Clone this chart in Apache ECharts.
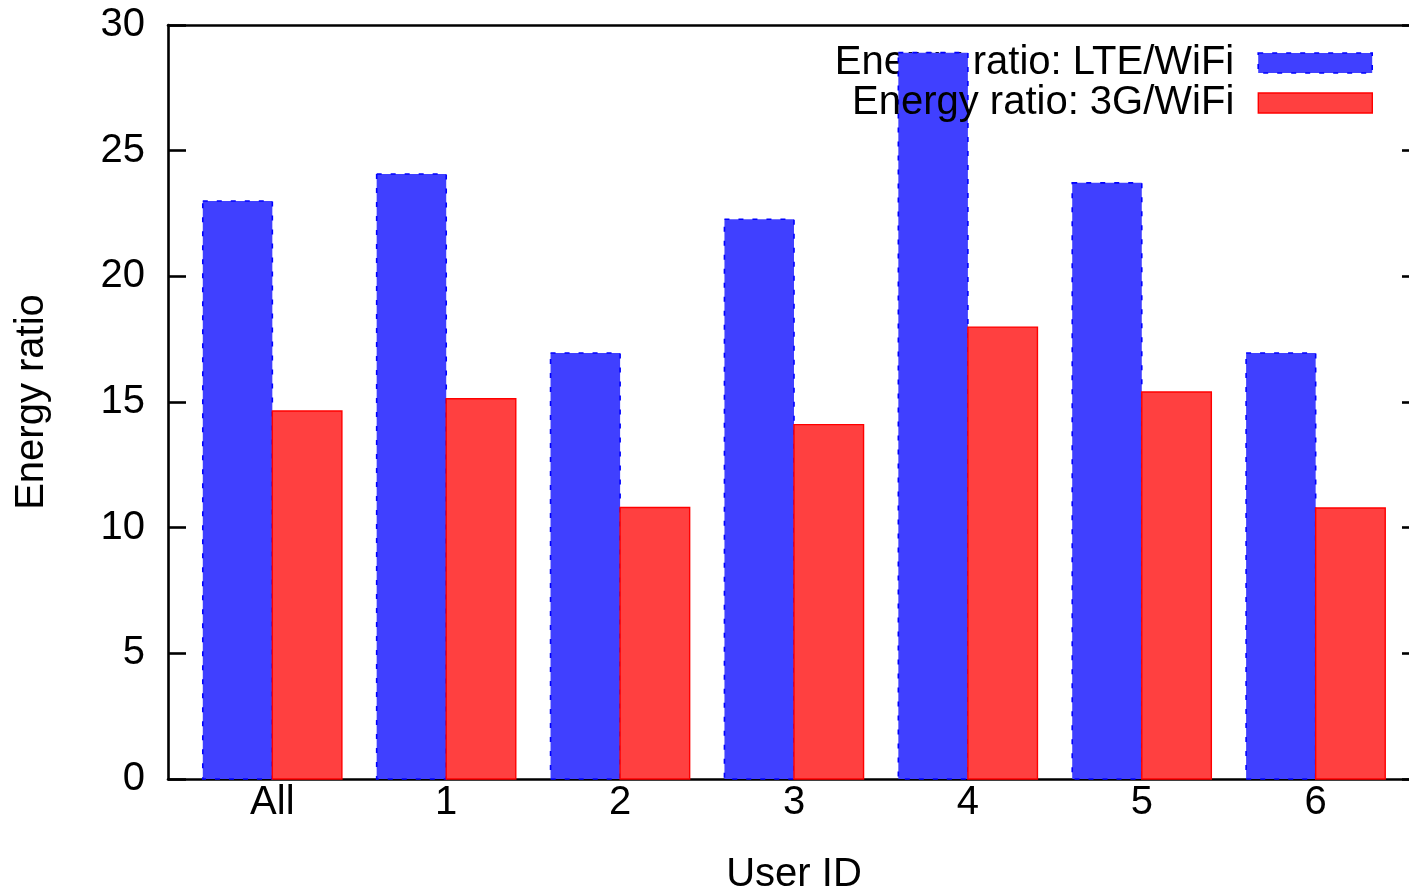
<!DOCTYPE html>
<html>
<head>
<meta charset="utf-8">
<script src="https://cdn.jsdelivr.net/npm/echarts@6/dist/echarts.min.js"></script>
<style>
html,body{margin:0;padding:0;background:#fff;}
#chart{width:1409px;height:894px;}
</style>
</head>
<body>
<div id="chart"></div>
<script>
var categories = ['All', '1', '2', '3', '4', '5', '6'];
var seriesNames = ['Energy ratio: LTE/WiFi', 'Energy ratio: 3G/WiFi'];
var lteValues = [23.0, 24.07, 16.95, 22.27, 28.9, 23.72, 16.95];
var g3Values = [14.64, 15.13, 10.8, 14.1, 17.98, 15.4, 10.78];
var yTicks = [0, 5, 10, 15, 20, 25, 30];

var FONT = "'Liberation Sans', Arial, Helvetica, sans-serif";

function toData(vals) {
  return vals.map(function (v, i) { return [i, v]; });
}

function makeRender(offA, offB, style) {
  return function (params, api) {
    var x = api.value(0), y = api.value(1);
    var p1 = api.coord([x + offA, y]);
    var p2 = api.coord([x + offB, 0]);
    return {
      type: 'rect',
      shape: { x: p1[0], y: p1[1], width: p2[0] - p1[0], height: p2[1] - p1[1] },
      style: style
    };
  };
}

var lteStyle = { fill: '#4040ff', stroke: '#0000ff', lineWidth: 1.6, lineDash: [5, 9] };
var g3Style = { fill: '#ff4040', stroke: '#ff0000', lineWidth: 1.4 };

function legendOpt(idx, top, z, itemStyle) {
  return {
    orient: 'vertical',
    right: 31,
    top: top,
    z: z,
    align: 'right',
    itemWidth: 114,
    itemHeight: 20,
    itemGap: 0,
    selectedMode: false,
    textStyle: { fontFamily: FONT, fontSize: 40, color: '#000', padding: [0, 19, 0, 0] },
    data: [{ name: seriesNames[idx], icon: 'rect', itemStyle: itemStyle }]
  };
}

var chart = echarts.init(document.getElementById('chart'), null, { renderer: 'canvas' });
chart.setOption({
  animation: false,
  backgroundColor: '#ffffff',
  textStyle: { fontFamily: FONT },
  grid: { left: 168, right: -11, top: 25, bottom: 115, containLabel: false, outerBoundsMode: 'none' },
  legend: [
    legendOpt(0, 38, 1, { color: '#4040ff', borderColor: '#0000ff', borderWidth: 1.6, borderType: [5, 9] }),
    legendOpt(1, 78, 4, { color: '#ff4040', borderColor: '#ff0000', borderWidth: 1.4 })
  ],
  xAxis: [{
    type: 'value',
    position: 'bottom',
    min: -0.6,
    max: 6.6,
    name: 'User ID',
    nameLocation: 'middle',
    nameGap: 76,
    nameTextStyle: { fontFamily: FONT, fontSize: 40, color: '#000' },
    axisLine: { show: true, onZero: false, lineStyle: { color: '#000', width: 2.6 } },
    axisTick: { show: false },
    splitLine: { show: false },
    axisLabel: {
      customValues: [0, 1, 2, 3, 4, 5, 6],
      formatter: function (v) { return categories[Math.round(v)]; },
      fontFamily: FONT, fontSize: 40, color: '#000', margin: 4
    }
  }, {
    type: 'value',
    position: 'top',
    min: -0.6,
    max: 6.6,
    axisLine: { show: true, onZero: false, lineStyle: { color: '#000', width: 2.6 } },
    axisTick: { show: false },
    axisLabel: { show: false },
    splitLine: { show: false }
  }],
  yAxis: [{
    type: 'value',
    position: 'left',
    min: 0,
    max: 30,
    interval: 5,
    name: 'Energy ratio',
    nameLocation: 'middle',
    nameGap: 116,
    nameTextStyle: { fontFamily: FONT, fontSize: 40, color: '#000' },
    axisLine: { show: true, onZero: false, lineStyle: { color: '#000', width: 2.6 } },
    axisTick: { show: true, inside: true, length: 18, lineStyle: { color: '#000', width: 2.6 } },
    splitLine: { show: false },
    axisLabel: {
      formatter: function (v) { return yTicks.indexOf(v) >= 0 ? String(v) : ''; },
      fontFamily: FONT, fontSize: 40, color: '#000', margin: 23
    }
  }, {
    type: 'value',
    position: 'right',
    min: 0,
    max: 30,
    interval: 5,
    axisLine: { show: true, onZero: false, lineStyle: { color: '#000', width: 2.6 } },
    axisTick: { show: true, inside: true, length: 18, lineStyle: { color: '#000', width: 2.6 } },
    axisLabel: { show: false },
    splitLine: { show: false }
  }],
  series: [{
    name: seriesNames[0],
    type: 'custom',
    z: 3,
    xAxisIndex: 0,
    yAxisIndex: 0,
    encode: { x: 0, y: 1 },
    data: toData(lteValues),
    renderItem: makeRender(-0.4, 0, lteStyle)
  }, {
    name: seriesNames[1],
    type: 'custom',
    z: 3,
    xAxisIndex: 0,
    yAxisIndex: 0,
    encode: { x: 0, y: 1 },
    data: toData(g3Values),
    renderItem: makeRender(0, 0.4, g3Style)
  }]
});
</script>
</body>
</html>
